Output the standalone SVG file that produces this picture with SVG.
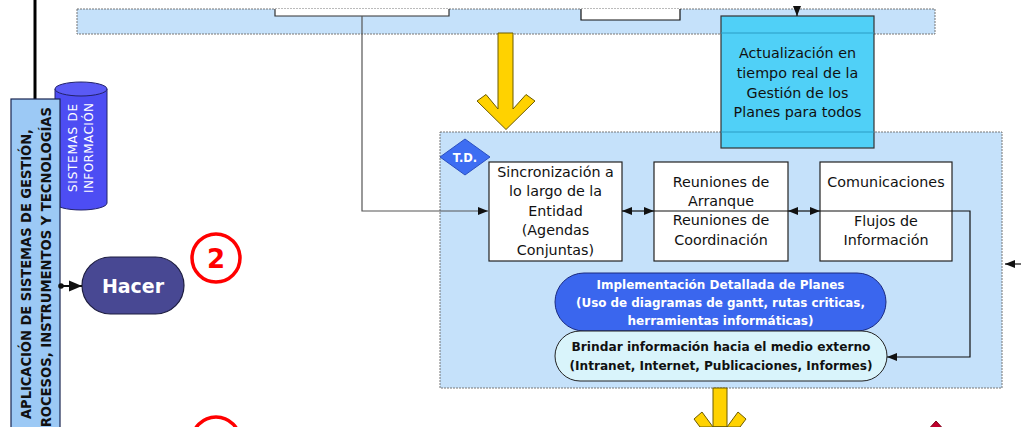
<svg xmlns="http://www.w3.org/2000/svg" width="1021" height="427" viewBox="0 0 1021 427">
<style>
.cont{fill:#c5e1fa;stroke:#777;stroke-width:1;stroke-dasharray:2 1}
.wbox{fill:#fff;stroke:#222;stroke-width:1.2}
.t{font-family:"DejaVu Sans",Verdana,sans-serif;font-size:14.3px;fill:#111;text-anchor:middle}
.tb{font-family:"DejaVu Sans",Verdana,sans-serif;font-weight:bold;text-anchor:middle}
.conn{fill:none;stroke:#111;stroke-width:1.2}
.yarrow{fill:#ffd200;stroke:#6b5a00;stroke-width:1}
.redc{fill:none;stroke:#ff0000;stroke-width:3.5}
</style>
<defs>
<marker id="ah" markerUnits="userSpaceOnUse" markerWidth="10" markerHeight="10" viewBox="0 0 10 10" refX="10" refY="5" orient="auto-start-reverse">
<path d="M0,1 L10,5 L0,9 Z" fill="#111"/>
</marker>
<marker id="ahb" markerUnits="userSpaceOnUse" markerWidth="13" markerHeight="12" viewBox="0 0 13 12" refX="13" refY="6" orient="auto">
<path d="M0,0.5 L13,6 L0,11.5 Z" fill="#111"/>
</marker>
<marker id="dot" markerUnits="userSpaceOnUse" markerWidth="6" markerHeight="6" viewBox="0 0 6 6" refX="3" refY="3">
<circle cx="3" cy="3" r="2.8" fill="#111"/>
</marker>
</defs>
<rect width="1021" height="427" fill="#fff"/>

<g id="top-container">
<rect class="cont" x="77" y="9" width="858" height="25"/>
<path d="M275,9 V16 H449 V9" fill="#fff" stroke="#333" stroke-width="1.2"/>
<path d="M581,9 V20 H680 V9" fill="#fff" stroke="#111" stroke-width="1.2"/>
</g>

<g id="td-container">
<rect class="cont" x="440" y="132" width="562" height="256"/>
</g>

<g id="left-line">
<line x1="35" y1="0" x2="35" y2="100" stroke="#000" stroke-width="3"/>
</g>

<g id="sistemas-informacion">
<path d="M55,89 V203 A26,7 0 0 0 107,203 V89 Z" fill="#4d4df3" stroke="#22226a" stroke-width="1"/>
<ellipse cx="81" cy="89" rx="26" ry="7" fill="#5a5af5" stroke="#22226a" stroke-width="1"/>
<text class="tb" transform="translate(76.5,148) rotate(-90)" font-size="12" style="fill:#fff;font-weight:normal" textLength="88">SISTEMAS DE</text>
<text class="tb" transform="translate(93,148) rotate(-90)" font-size="12" style="fill:#fff;font-weight:normal" textLength="90">INFORMACIÓN</text>
</g>

<g id="aplicacion">
<rect x="11" y="99" width="49" height="340" fill="#9cc9f5" stroke="#1a2550" stroke-width="1.2"/>
<text class="tb" transform="translate(30.5,274) rotate(-90)" font-size="14.5" style="fill:#111" textLength="290" lengthAdjust="spacingAndGlyphs">APLICACIÓN DE SISTEMAS DE GESTIÓN,</text>
<text class="tb" transform="translate(50.5,272) rotate(-90)" font-size="14.5" style="fill:#111" textLength="330" lengthAdjust="spacingAndGlyphs">PROCESOS, INSTRUMENTOS Y TECNOLOGÍAS</text>
</g>

<g id="hacer">
<rect x="82" y="257" width="102" height="57" rx="28.5" fill="#484893" stroke="#1d1d40" stroke-width="1.2"/>
<text class="tb" x="133" y="293" font-size="19" style="fill:#fff">Hacer</text>
</g>

<g id="num-2">
<circle class="redc" cx="216" cy="258" r="24"/>
<text class="tb" x="216" y="268" font-size="26" style="fill:#f00">2</text>
</g>

<g id="num-3">
<circle class="redc" cx="216" cy="441" r="24"/>
</g>

<g id="red-diamond">
<polygon points="936,421 958,445 936,469 914,445" fill="#c0002d" stroke="#7a0018" stroke-width="1"/>
</g>

<g id="arrow-down-top">
<polygon class="yarrow" points="498,33 513,33 513,109 526,94.5 535,101 506,129.5 477,101 486,94.5 498,109"/>
</g>

<g id="arrow-down-bottom">
<polygon class="yarrow" points="713,388 727,388 727,427 713,427"/>
<polygon class="yarrow" points="727,427 738,412 746,419 740,427 700,427 694,419 702,412 713,427"/>
</g>

<g id="actualizacion">
<rect x="721" y="16" width="153" height="132" fill="#50d0f7" stroke="#333" stroke-width="1.2"/>
<line x1="721" y1="33" x2="874" y2="33" stroke="#2a9cc4" stroke-width="1"/>
<line x1="721" y1="132" x2="874" y2="132" stroke="#2a9cc4" stroke-width="1"/>
<text class="t" x="797.5" y="58">Actualización en</text>
<text class="t" x="797.5" y="77.5">tiempo real de la</text>
<text class="t" x="797.5" y="97.5">Gestión de los</text>
<text class="t" x="797.5" y="117">Planes para todos</text>
</g>

<g id="td">
<polygon points="465,139 490,157 465,175 440,157" fill="#3d6df2" stroke="#2a4fc0" stroke-width="1"/>
<text class="tb" x="465" y="161.5" font-size="11.5" style="fill:#fff">T.D.</text>
</g>

<g id="sincronizacion">
<rect class="wbox" x="489" y="162" width="133" height="99"/>
<text class="t" x="555.5" y="176.5">Sincronización a</text>
<text class="t" x="555.5" y="196">lo largo de la</text>
<text class="t" x="555.5" y="215.5">Entidad</text>
<text class="t" x="555.5" y="235">(Agendas</text>
<text class="t" x="555.5" y="254.5">Conjuntas)</text>
</g>

<g id="reuniones">
<rect class="wbox" x="654" y="162" width="134" height="99"/>
<text class="t" x="721" y="187">Reuniones de</text>
<text class="t" x="721" y="205.5">Arranque</text>
<text class="t" x="721" y="224.5">Reuniones de</text>
<text class="t" x="721" y="244.5">Coordinación</text>
</g>

<g id="comunicaciones">
<rect class="wbox" x="820" y="162" width="132" height="99"/>
<text class="t" x="886" y="187">Comunicaciones</text>
<text class="t" x="886" y="226">Flujos de</text>
<text class="t" x="886" y="245">Información</text>
</g>

<g id="implementacion">
<rect x="555" y="273" width="331" height="58" rx="29" fill="#3a66ee" stroke="#1a2a80" stroke-width="1"/>
<text class="tb" x="720.5" y="288.5" font-size="12" style="fill:#fff" textLength="248" lengthAdjust="spacingAndGlyphs">Implementación Detallada de Planes</text>
<text class="tb" x="720.5" y="307" font-size="12" style="fill:#fff" textLength="289" lengthAdjust="spacingAndGlyphs">(Uso de diagramas de gantt, rutas criticas,</text>
<text class="tb" x="720.5" y="324.5" font-size="12" style="fill:#fff" textLength="186" lengthAdjust="spacingAndGlyphs">herramientas informáticas)</text>
</g>

<g id="brindar">
<rect x="555" y="331" width="332" height="50" rx="25" fill="#d9f4fb" stroke="#222" stroke-width="1"/>
<text class="tb" x="721" y="350.5" font-size="12" style="fill:#111" textLength="299" lengthAdjust="spacingAndGlyphs">Brindar información hacia el medio externo</text>
<text class="tb" x="721" y="369.5" font-size="12" style="fill:#111" textLength="303" lengthAdjust="spacingAndGlyphs">(Intranet, Internet, Publicaciones, Informes)</text>
</g>

<g id="connectors">
<path class="conn" d="M362,16 V211 H488" style="stroke:#555" marker-end="url(#ah)"/>
<path class="conn" d="M622,211 H654" marker-start="url(#ah)" marker-end="url(#ah)"/>
<path class="conn" d="M654,211 H788"/>
<path class="conn" d="M788,211 H820" marker-start="url(#ah)" marker-end="url(#ah)"/>
<path class="conn" d="M820,211 H970 V357 H887" marker-end="url(#ah)"/>
<path class="conn" d="M1021,264 H1005" marker-end="url(#ah)"/>
<path class="conn" d="M61,286 H82" marker-start="url(#dot)" marker-end="url(#ahb)" style="stroke-width:2"/>
<path class="conn" d="M797,9 V16" marker-end="url(#ah)"/>
</g>
</svg>
